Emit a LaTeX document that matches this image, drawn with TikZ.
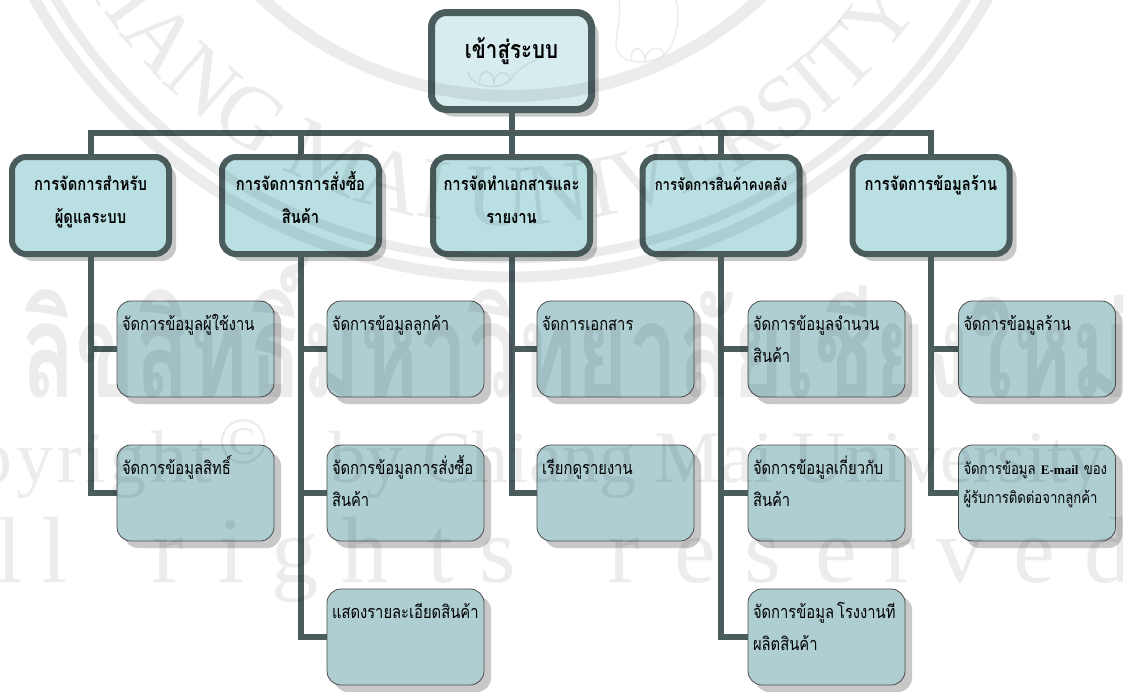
\documentclass[tikz,border=0pt]{standalone}
\usepackage{fontspec}
\usetikzlibrary{shadows,decorations.text}
\setmainfont[Script=Thai,FakeStretch=0.82]{Loma}
\newfontfamily\latinfont{Liberation Serif}
\newfontfamily\spacedfont[LetterSpace=5]{Liberation Serif}
\definecolor{linecol}{HTML}{4B5C5C}
\definecolor{rootcol}{HTML}{D6ECEF}
\definecolor{headcol}{HTML}{B9DFE3}
\definecolor{leafcol}{HTML}{AECED2}
\definecolor{shadecol}{HTML}{C8C8C8}
\newcommand{\headtext}[1]{\vbox to 97pt{\vskip 13pt\rule{0pt}{20pt}#1\par\vfill}}
\newcommand{\leaftext}[1]{\vbox to 96pt{\vskip 9pt\rule{0pt}{20pt}#1\par\vfill}}
\tikzset{
  cardshade/.style={drop shadow={shadow xshift=7pt,shadow yshift=-7pt,opacity=1,fill=shadecol}},
  rootbox/.style={draw=linecol,line width=7pt,fill=rootcol,rounded corners=15pt,cardshade,
    outer sep=0pt,inner sep=0pt,minimum width=160pt,minimum height=97pt,font=\bfseries\fontsize{25}{30}\selectfont},
  headbox/.style={draw=linecol,line width=6pt,fill=headcol,rounded corners=14pt,cardshade,
    outer sep=0pt,inner xsep=3pt,inner ysep=0pt,text width=151pt,align=center,minimum width=157pt,minimum height=97pt,
    font=\bfseries\fontsize{18}{33}\selectfont},
  leafbox/.style={draw=black!70,line width=.8pt,fill=leafcol,rounded corners=14pt,cardshade,
    outer sep=0pt,inner xsep=5pt,inner ysep=0pt,text width=147pt,align=left,minimum width=157pt,minimum height=96pt,
    font=\fontsize{18}{32}\selectfont},
  linkline/.style={draw=linecol,line width=6pt},
  markline/.style={draw=black,fill=none},
}
\begin{document}
\begin{tikzpicture}[x=1pt,y=-1pt]
\useasboundingbox (0,0) rectangle (1123,691);
\coordinate (bus) at (511.5,133);

\node[rootbox] (root) at (511.5,61) {\raisebox{26pt}{เข้าสู่ระบบ}};
\node[headbox] (admin) at (90.5,205.5) {\headtext{การจัดการสำหรับ\\ผู้ดูแลระบบ}};
\node[headbox] (order) at (300.5,205.5) {\headtext{การจัดการการสั่งซื้อ\\สินค้า}};
\node[headbox] (report) at (511.5,205.5) {\headtext{การจัดทำเอกสารและ\\รายงาน}};
\node[headbox,font=\bfseries\fontsize{16}{33}\selectfont] (stock) at (721,205.5) {\headtext{\vspace*{-3pt}การจัดการสินค้าคงคลัง}};
\node[headbox] (shop) at (931,205.5) {\headtext{การจัดการข้อมูลร้าน}};

\node[leafbox] (users) at (195.5,349) {\leaftext{จัดการข้อมูลผู้ใช้งาน}};
\node[leafbox] (rights) at (195.5,493) {\leaftext{จัดการข้อมูลสิทธิ์}};
\node[leafbox] (customer) at (405.5,349) {\leaftext{จัดการข้อมูลลูกค้า}};
\node[leafbox] (orderdata) at (405.5,493) {\leaftext{จัดการข้อมูลการสั่งซื้อ\\สินค้า}};
\node[leafbox] (detail) at (405.5,637) {\leaftext{แสดงรายละเอียดสินค้า}};
\node[leafbox] (document) at (615.5,349) {\leaftext{จัดการเอกสาร}};
\node[leafbox] (viewreport) at (615.5,493) {\leaftext{เรียกดูรายงาน}};
\node[leafbox] (amount) at (826.5,349) {\leaftext{จัดการข้อมูลจำนวน\\สินค้า}};
\node[leafbox] (about) at (826.5,493) {\leaftext{จัดการข้อมูลเกี่ยวกับ\\สินค้า}};
\node[leafbox] (factory) at (826.5,637) {\leaftext{จัดการข้อมูล\,โรงงานที\\ผลิตสินค้า}};
\node[leafbox] (shopdata) at (1037,349) {\leaftext{จัดการข้อมูลร้าน}};
\node[leafbox,font=\fontsize{16}{29}\selectfont] (contact) at (1037,493) {\leaftext{จัดการข้อมูล {\latinfont\bfseries\fontsize{13}{29}\selectfont E-mail} ของ\\ผู้รับการติดต่อจากลูกค้า}};

\draw[linkline] (root.south) -- (report.north);
\foreach \head in {admin,order,stock,shop}
  \draw[linkline] (bus) -| (\head.north);
\foreach \head/\leaf in {admin/users,admin/rights,order/customer,order/orderdata,order/detail,
    report/document,report/viewreport,stock/amount,stock/about,stock/factory,shop/shopdata,shop/contact}
  \draw[linkline] (\head.south) |- (\leaf.west);

% watermark lies over everything
\begin{scope}[opacity=.075]
\clip (0,0) rectangle (1123,691);
\begin{scope}[shift={(511,-270)},y=1pt]
\draw[markline,line width=11pt] (0,0) circle (547pt);
\draw[markline,line width=9pt] (0,0) circle (529pt);
\draw[markline,line width=12pt] (0,0) circle (366pt);
\path[decorate,decoration={text along path,text align=center,
    text={|\latinfont\fontsize{88}{88}\selectfont|CHIANG MAI UNIVERSITY}}]
  (192.5:495pt) arc (192.5:333.5:495pt);
\end{scope}
\draw[markline,line width=1.5pt] (619,0) .. controls (622,25) and (612,40) .. (618,52)
  .. controls (625,66) and (660,66) .. (670,48) .. controls (678,32) and (680,15) .. (676,0);
\draw[markline,line width=1.5pt] (632,60) .. controls (628,46) and (644,44) .. (645,60)
  .. controls (646,46) and (664,44) .. (664,56);
\draw[markline,line width=1.5pt] (468,72) .. controls (472,90) and (505,90) .. (512,78)
  .. controls (516,70) and (530,62) .. (540,58);
\draw[markline,line width=1.5pt] (480,82) .. controls (478,68) and (495,68) .. (494,84)
  .. controls (494,70) and (510,70) .. (510,80);
\node[inner sep=0pt,anchor=base east,yscale=1.22,transform shape,font=\bfseries\fontsize{108}{108}\selectfont] (markthai) at (1130,397) {ลิขสิทธิ์มหาวิทยาลัยเชียงใหม่};
\node[inner sep=0pt,anchor=base east,font=\spacedfont\fontsize{74}{74}\selectfont] (markcopy) at (212,482) {Copyright};
\node[inner sep=0pt,anchor=center,font=\latinfont\fontsize{66}{66}\selectfont] (markc) at (244,442) {©};
\node[inner sep=0pt,anchor=base east,font=\latinfont\fontsize{74}{74}\selectfont] (markby) at (1105,482) {by Chiang Mai University};
\foreach \xpos/\glyph [count=\i] in {10/l,55/l,168/r,232/i,295/g,365/h,441/t,498/s,624/r,695/e,763/s,836/e,900/r,960/v,1034/e,1108/d}
  \node[inner sep=0pt,anchor=base,font=\latinfont\fontsize{94}{94}\selectfont] (markall\i) at (\xpos,582) {\glyph};
\end{scope}
\end{tikzpicture}
\end{document}
